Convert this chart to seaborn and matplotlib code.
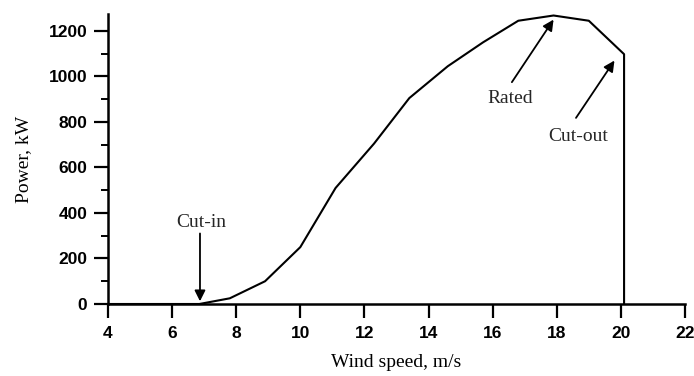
import matplotlib
matplotlib.use("Agg")
import matplotlib.pyplot as plt
import seaborn as sns
import pandas as pd

wind_speed = [4.0, 6.85, 7.8, 8.9, 10.0, 11.1, 12.3, 13.4, 14.6, 15.7, 16.8, 17.9, 19.0, 20.1, 20.1]
power_kw = [0, 0, 25, 100, 250, 510, 705, 905, 1045, 1150, 1245, 1268, 1245, 1098, 0]
x_ticks = [4, 6, 8, 10, 12, 14, 16, 18, 20, 22]
y_ticks = [0, 200, 400, 600, 800, 1000, 1200]

sns.set_theme(style="ticks")
plt.rcParams['font.family'] = ['Liberation Sans', 'DejaVu Sans']

df = pd.DataFrame({"wind": wind_speed, "power": power_kw})

fig = plt.figure(figsize=(6.94, 3.76), dpi=100)
ax = fig.add_axes([0.1556, 0.1915, 0.8314, 0.7715])
sns.lineplot(data=df, x="wind", y="power", estimator=None, sort=False,
             color="black", linewidth=1.5, ax=ax)

ax.set_xlim(4, 22)
ax.set_ylim(0, 1275)
ax.set_xticks(x_ticks)
ax.set_yticks(y_ticks)
ax.set_yticks([100, 300, 500, 700, 900, 1100], minor=True)
for s in ["top", "right"]:
    ax.spines[s].set_visible(False)
for s in ["left", "bottom"]:
    ax.spines[s].set_linewidth(1.8)
    ax.spines[s].set_color("black")
ax.tick_params(axis="both", which="major", direction="out", length=10, width=1.6,
               colors="black", labelsize=12.5)
ax.tick_params(axis="y", which="major", pad=5)
ax.tick_params(axis="x", which="major", pad=6)
ax.tick_params(axis="y", which="minor", direction="out", length=5, width=1.4, color="black")
for lab in ax.get_xticklabels() + ax.get_yticklabels():
    lab.set_fontweight("bold")

serif = ['Liberation Serif', 'DejaVu Serif']
ax.set_xlabel("Wind speed, m/s", family=serif, fontsize=14, color="black", labelpad=9)
ax.set_ylabel("Power, kW", family=serif, fontsize=14, color="black", labelpad=12)

arrow = dict(arrowstyle="-|>", color="black", lw=1.3, mutation_scale=16, shrinkA=0, shrinkB=0)
ax.annotate("", xy=(6.87, 12), xytext=(6.87, 310), arrowprops=arrow)
ax.text(6.9, 358, "Cut-in", family=serif, fontsize=14, ha="center", va="center")
ax.annotate("", xy=(17.9, 1250), xytext=(16.6, 975), arrowprops=arrow)
ax.text(16.55, 905, "Rated", family=serif, fontsize=14, ha="center", va="center")
ax.annotate("", xy=(19.8, 1070), xytext=(18.6, 818), arrowprops=arrow)
ax.text(18.66, 734, "Cut-out", family=serif, fontsize=14, ha="center", va="center")

fig.savefig("out.png", dpi=100)
